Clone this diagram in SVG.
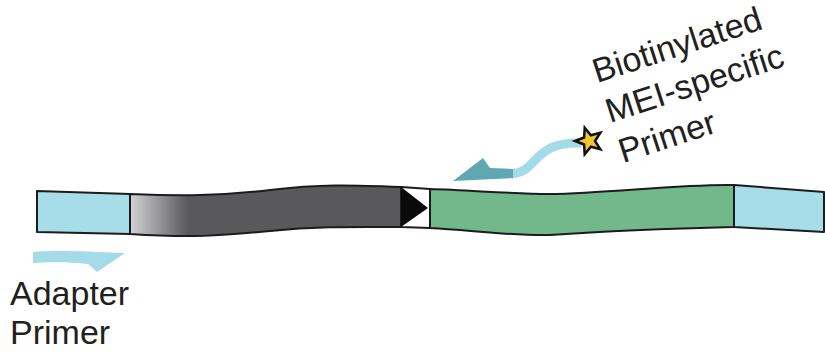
<svg xmlns="http://www.w3.org/2000/svg" width="825" height="352" viewBox="0 0 825 352">
<style>
.seg{stroke:#1c1c1c;stroke-width:2;stroke-linejoin:round}
.cyan{fill:#a7dde9}
.lbl{font-family:"Liberation Sans",Arial,sans-serif;font-size:34px;fill:#231f20}
</style>
<defs>
<linearGradient id="g" gradientUnits="userSpaceOnUse" x1="130" y1="0" x2="188" y2="0">
<stop offset="0" stop-color="#d2d2d4"/>
<stop offset="1" stop-color="#59595b"/>
</linearGradient>
</defs>
<rect width="825" height="352" fill="#fff"/>
<g id="strand">
<g id="adapter-left"><polygon class="seg cyan" points="37,191 130,194 130,234 37,232"/></g>
<g id="flank-dark"><path class="seg" fill="url(#g)" d="M130,194 C180,196 220,196 270,190 S350,185 401,187 L401,227 C360,227 320,226 270,231 S190,238 130,234 Z"/></g>
<g id="junction"><polygon class="seg" fill="#fff" points="401,187 430,189 430,228 401,227"/><polygon fill="#0a0a0a" points="401,187 428,208 401,227"/></g>
<g id="mei"><path class="seg" fill="#72b88b" d="M430,189 C470,190 510,194 550,194 C610,193 680,184 734,185 L734,227 C690,228 620,230 550,235 C510,236 470,230 430,228 Z"/></g>
<g id="adapter-right"><polygon class="seg cyan" points="734,185 824,192 824,232 734,227"/></g>
</g>
<g id="connectors">
<g id="adapter-primer"><path fill="#a3dbe8" d="M33,252 C55,250 80,251 125,253 L97,272 L88,264 C70,262 50,262 33,263 Z"/></g>
<g id="mei-primer">
<path fill="none" stroke="#a3dbe8" stroke-width="9" d="M582,143 C555,142 545,150 535,160 C527,169 522,173 512,174"/>
<polygon fill="#5fa8b2" points="513,169 490,168 483,158 453,181 513,178"/>
<polygon fill="#f1c62f" stroke="#111" stroke-width="2.5" stroke-linejoin="miter" points="584.7,127.7 590.9,135.3 600.3,132.8 595,141 600.3,149.2 590.9,146.7 584.7,154.3 584.1,144.5 575,141 584.1,137.5"/>
</g>
</g>
<g id="labels">
<text class="lbl" x="10" y="305">Adapter<tspan x="10" y="344">Primer</tspan></text>
<text class="lbl" transform="translate(597,83) rotate(-18)">Biotinylated<tspan x="0" y="42">MEI-specific</tspan><tspan x="0" y="84">Primer</tspan></text>
</g>
</svg>
